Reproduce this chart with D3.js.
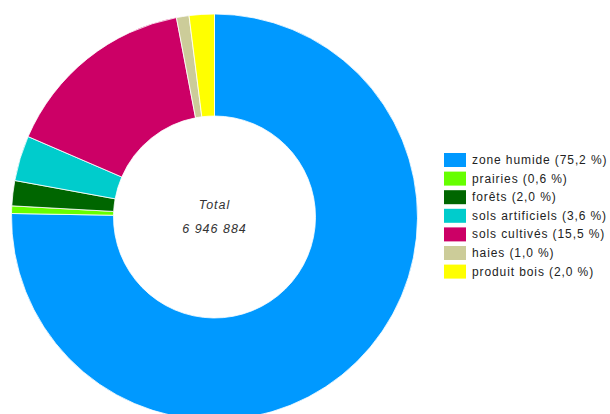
<!DOCTYPE html>
<html><head><meta charset="utf-8">
<script src="https://cdn.jsdelivr.net/npm/d3@7"></script>
<style>body{margin:0;background:#fff;}svg{display:block;}</style>
</head><body>
<svg id="c" width="610" height="414"></svg>
<script>
const categories = ["zone humide","prairies","forêts","sols artificiels","sols cultivés","haies","produit bois"];
const percents = [75.2, 0.6, 2.0, 3.6, 15.5, 1.0, 2.0];
const colors = ["#0099ff","#66ff00","#006600","#00cccc","#cc0066","#cccc99","#ffff00"];
const totalLabel = "6 946 884";

const svg = d3.select("#c");
const cx = 214.5, cy = 217, R = 203, r = 101;
const data = categories.map((c,i)=>({name:c, value:percents[i], color:colors[i]}));
const pie = d3.pie().sort(null).value(d=>d.value);
const arc = d3.arc().innerRadius(r).outerRadius(R);
const g = svg.append("g").attr("transform",`translate(${cx},${cy})`);
g.selectAll("path").data(pie(data)).join("path")
  .attr("d",arc).attr("fill",d=>d.data.color)
  .attr("stroke","#fff").attr("stroke-width",0.8);
g.append("text").attr("text-anchor","middle").attr("y",-8)
  .attr("font-family","Liberation Sans, Arial, sans-serif").attr("font-size",12.5)
  .attr("letter-spacing",1).attr("font-style","italic").attr("fill","#333").text("Total");
g.append("text").attr("text-anchor","middle").attr("y",16)
  .attr("font-family","Liberation Sans, Arial, sans-serif").attr("font-size",12.5)
  .attr("letter-spacing",1).attr("font-style","italic").attr("fill","#333").text(totalLabel);

const fmt = v => v.toFixed(1).replace(".", ",");
const leg = svg.append("g").attr("transform","translate(444,153)");
const rows = leg.selectAll("g").data(data).join("g")
  .attr("transform",(d,i)=>`translate(0,${i*18.6})`);
rows.append("rect").attr("width",22).attr("height",14).attr("fill",d=>d.color);
rows.append("text").attr("x",28).attr("y",11)
  .attr("font-family","Liberation Sans, Arial, sans-serif").attr("font-size",12)
  .attr("letter-spacing",0.9).attr("fill","#222").text(d=>`${d.name} (${fmt(d.value)} %)`);
</script>
</body></html>
